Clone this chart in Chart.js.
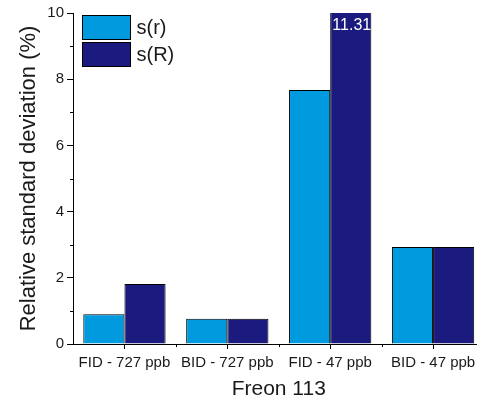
<!DOCTYPE html>
<html>
<head>
<meta charset="utf-8">
<script src="https://cdn.jsdelivr.net/npm/chart.js@4/dist/chart.umd.min.js"></script>
<style>
  html, body { margin: 0; padding: 0; background: #fff; overflow: hidden; }
  #wrap { width: 488px; height: 402px; }
</style>
</head>
<body>
<div id="wrap"><canvas id="rsdChart" width="488" height="402"></canvas></div>
<script>
const categories = ["FID - 727 ppb", "BID - 727 ppb", "FID - 47 ppb", "BID - 47 ppb"];
const seriesNames = ["s(r)", "s(R)"];
const srValues = [0.90, 0.76, 7.67, 2.93];
const sRValues = [1.81, 0.76, 11.31, 2.93];
const yMajorTicks = [0, 2, 4, 6, 8, 10];
const yMinorTicks = [1, 3, 5, 7, 9];

const lightBlue = "#009bdf";
const darkBlue = "#1b1a7e";
const axisColor = "#000";
const textColor = "#1a1a1a";
const fontFamily = "'Liberation Sans', Arial, sans-serif";

// minor ticks, legend and the clipped value label
const extras = {
    id: "extras",
    afterDraw(chart) {
        const c = chart.ctx;
        const area = chart.chartArea;
        const x = chart.scales.x;
        const y = chart.scales.y;

        c.save();
        c.strokeStyle = axisColor;
        c.lineWidth = 1;
        c.beginPath();
        yMinorTicks.forEach(v => {
            const py = Math.round(y.getPixelForValue(v)) + 0.5;
            c.moveTo(area.left - 3, py);
            c.lineTo(area.left, py);
        });
        for (let i = 1; i < categories.length; i++) {
            const px = Math.round((x.getPixelForValue(i - 1) + x.getPixelForValue(i)) / 2) + 0.5;
            c.moveTo(px, area.bottom);
            c.lineTo(px, area.bottom + 3);
        }
        c.stroke();

        // legend
        const colors = [lightBlue, darkBlue];
        c.font = "20px " + fontFamily;
        c.textBaseline = "middle";
        c.textAlign = "left";
        seriesNames.forEach((name, i) => {
            const bx = area.left + 9.5;
            const by = area.top + 2.5 + i * 27;
            c.fillStyle = colors[i];
            c.fillRect(bx, by, 48, 24);
            c.strokeStyle = "#000";
            c.strokeRect(bx, by, 48, 24);
            c.fillStyle = textColor;
            c.fillText(name, bx + 54, by + 13);
        });

        // value label for the bar that runs off the top
        const meta = chart.getDatasetMeta(1);
        sRValues.forEach((v, i) => {
            if (v > y.max) {
                c.font = "16px " + fontFamily;
                c.fillStyle = "#fff";
                c.textAlign = "center";
                c.fillText(v.toFixed(2), meta.data[i].x + 1, area.top + 13);
            }
        });
        c.restore();
    }
};

new Chart(document.getElementById("rsdChart"), {
    type: "bar",
    data: {
        labels: categories,
        datasets: [
            {
                label: seriesNames[0],
                data: srValues,
                backgroundColor: lightBlue,
                borderColor: "#000",
                borderWidth: 1
            },
            {
                label: seriesNames[1],
                data: sRValues,
                backgroundColor: darkBlue,
                borderColor: "#000",
                borderWidth: 1
            }
        ]
    },
    options: {
        responsive: false,
        animation: false,
        devicePixelRatio: 1,
        categoryPercentage: 0.8,
        barPercentage: 1.0,
        layout: { padding: { top: 13, right: 3.5, left: 0, bottom: 0 } },
        plugins: {
            legend: { display: false },
            tooltip: { enabled: false }
        },
        scales: {
            x: {
                offset: true,
                grid: {
                    offset: false,
                    drawOnChartArea: false,
                    tickLength: 5,
                    color: axisColor
                },
                border: { display: true, color: axisColor, width: 1 },
                ticks: {
                    autoSkip: false,
                    maxRotation: 0,
                    padding: 5,
                    color: textColor,
                    font: { family: fontFamily, size: 15 }
                },
                title: {
                    display: true,
                    text: "Freon 113",
                    color: textColor,
                    font: { family: fontFamily, size: 21 },
                    padding: { top: 4, bottom: 0 }
                },
                afterFit(scale) { scale.height = 58; }
            },
            y: {
                min: 0,
                max: 10,
                afterBuildTicks(scale) {
                    scale.ticks = yMajorTicks.map(v => ({ value: v }));
                },
                grid: {
                    drawOnChartArea: false,
                    tickLength: 6,
                    color: axisColor
                },
                border: { display: true, color: axisColor, width: 1 },
                ticks: {
                    padding: 3,
                    color: textColor,
                    font: { family: fontFamily, size: 15 }
                },
                title: {
                    display: true,
                    text: "Relative standard deviation (%)",
                    color: textColor,
                    font: { family: fontFamily, size: 22 },
                    padding: { top: 16, bottom: 0 }
                },
                afterFit(scale) { scale.width = 73; }
            }
        }
    },
    plugins: [extras]
});
</script>
</body>
</html>
